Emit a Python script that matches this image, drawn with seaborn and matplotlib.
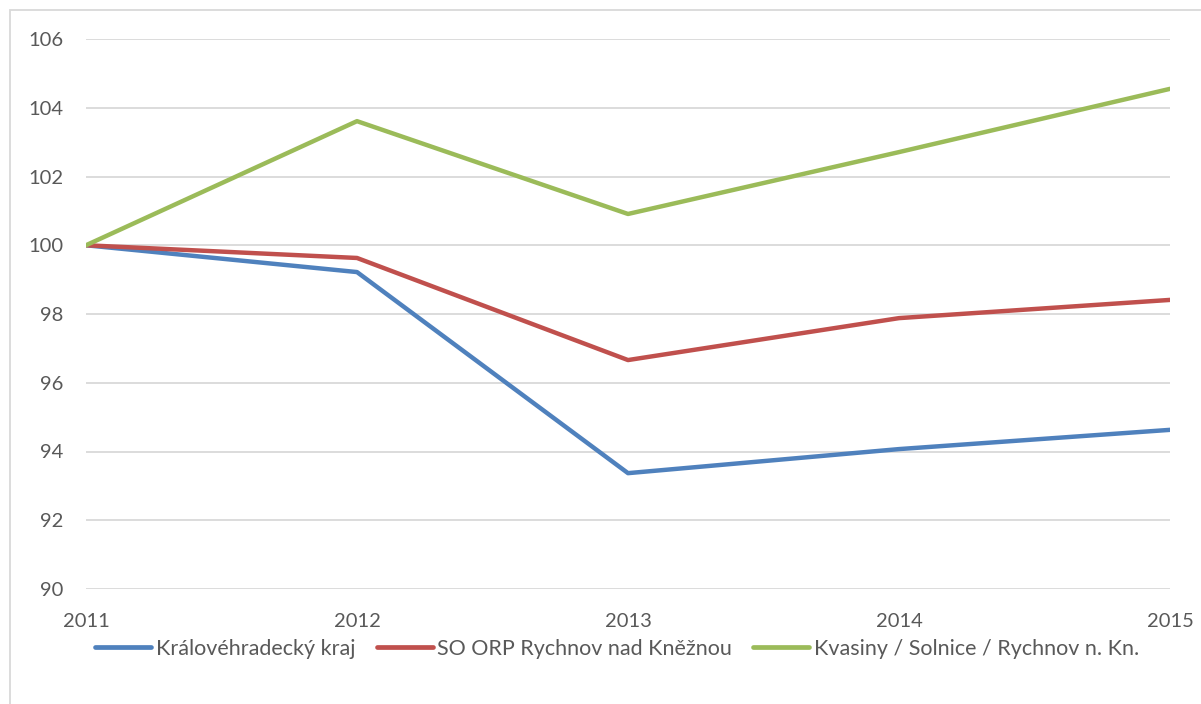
import pandas as pd
import matplotlib.pyplot as plt
import seaborn as sns
from matplotlib.patches import Rectangle

# data
years = [2011, 2012, 2013, 2014, 2015]
kralovehradecky = [100, 99.22, 93.37, 94.07, 94.63]
so_orp = [100, 99.63, 96.66, 97.88, 98.41]
kvasiny = [100, 103.61, 100.91, 102.71, 104.55]
series_names = ['Královéhradecký kraj', 'SO ORP Rychnov nad Kněžnou',
                'Kvasiny / Solnice / Rychnov n. Kn.']

df = pd.DataFrame({
    'rok': years * 3,
    'hodnota': kralovehradecky + so_orp + kvasiny,
    'oblast': [series_names[0]] * 5 + [series_names[1]] * 5 + [series_names[2]] * 5,
})

sns.set_style('white')
plt.rcParams['font.family'] = ['Lato', 'DejaVu Sans']
text_col = '#595959'

fig = plt.figure(figsize=(12.01, 7.04), dpi=100)
ax = fig.add_axes([86 / 1201, 115 / 704, 1084 / 1201, 550 / 704])

pal = ['#4F81BD', '#C0504D', '#9BBB59']
sns.lineplot(data=df, x='rok', y='hodnota', hue='oblast', palette=pal,
             linewidth=3.2, ax=ax, solid_capstyle='round')

ax.set_xlim(2011, 2015)
ax.set_ylim(90, 106)
ax.set_yticks(range(90, 107, 2))
ax.set_xticks(years)
ax.grid(axis='y', color='#D9D9D9', linewidth=1.3)
ax.set_axisbelow(True)
for s in ax.spines.values():
    s.set_visible(False)
ax.tick_params(axis='both', length=0, labelsize=14.5, colors=text_col)
ax.tick_params(axis='y', pad=16)
ax.tick_params(axis='x', pad=17)
ax.set_xlabel('')
ax.set_ylabel('')

leg = ax.legend(loc='upper center', bbox_to_anchor=(0.49, -0.055), ncol=3, frameon=False,
                fontsize=15.5, labelcolor=text_col, handlelength=2.6, handletextpad=0.2,
                columnspacing=1.0)
for h in leg.get_lines():
    h.set_linewidth(3.4)
    h.set_solid_capstyle('round')

# ramecek kolem grafu
fig.patches.append(Rectangle((10 / 1201, -0.1), 1.1, 1.1 - 10 / 704,
                             transform=fig.transFigure, fill=False,
                             edgecolor='#D9D9D9', linewidth=1.3))

fig.savefig('out.png', dpi=100)
